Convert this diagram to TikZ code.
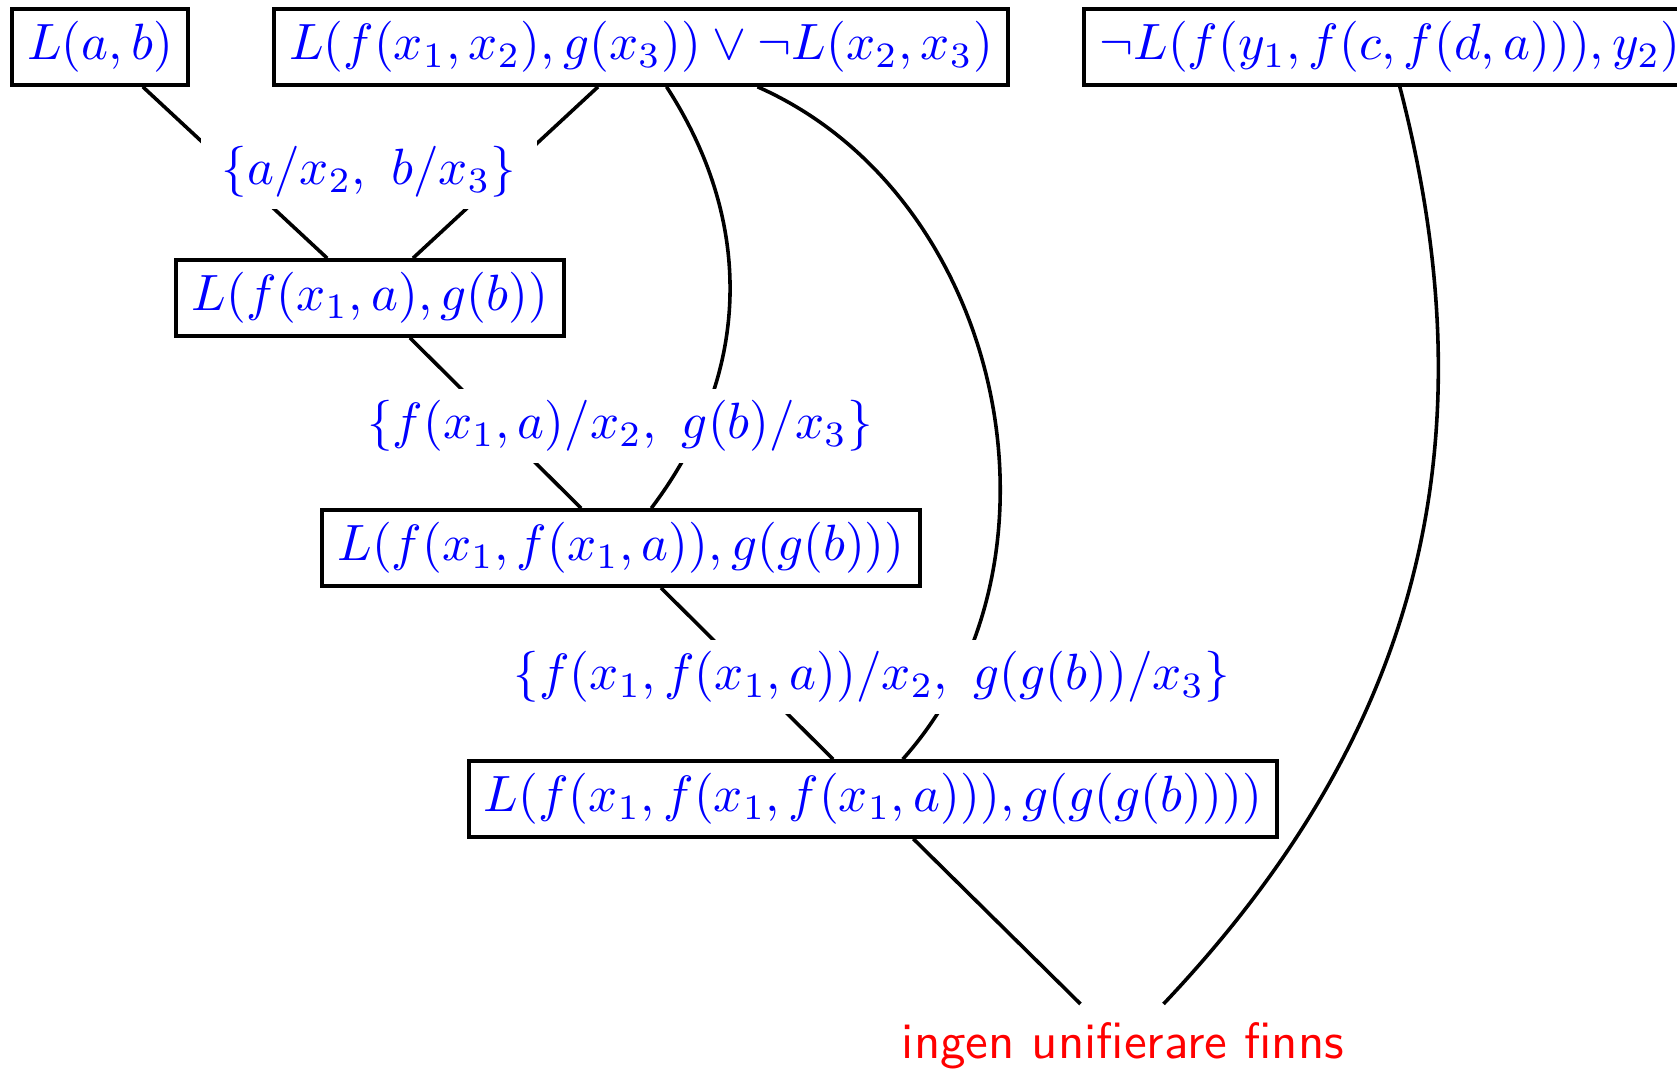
\documentclass[tikz,border=0pt]{standalone}
\begin{document}
\begin{tikzpicture}[x=0.196pt,y=-0.196pt,line width=0.7pt,
    clause/.style={draw,text=blue,line width=0.8pt,inner xsep=3pt,inner ysep=2.4pt},
    subst/.style={fill=white,text=blue,inner xsep=4pt,inner ysep=2.2pt}]
    \useasboundingbox (0,0) rectangle (1677,1073);
    % clauses
    \node[clause] (c1) at (100,47) {$L(a,b)$};
    \node[clause] (c2) at (641,47) {$L(f(x_1,x_2),g(x_3))\lor\neg L(x_2,x_3)$};
    \node[clause,anchor=west] (c3) at (1082,47) {$\neg L(f(y_1,f(c,f(d,a))),y_2)$};
    \node[clause] (r1) at (370,298) {$L(f(x_1,a),g(b))$};
    \node[clause] (r2) at (621,548) {$L(f(x_1,f(x_1,a)),g(g(b)))$};
    \node[clause] (r3) at (873,799) {$L(f(x_1,f(x_1,f(x_1,a))),g(g(g(b))))$};
    \node[text=red,font=\sffamily] (fail) at (1123,1046) {ingen unifierare finns};
    % resolution steps
    \draw (c1) -- (r1);
    \draw (c2) -- (r1);
    \draw (r1) -- (r2);
    \draw (c2) to[bend left=35] (r2);
    \draw (r2) -- (r3);
    \draw (c2) to[bend left=54] (r3);
    \draw (r3) -- (fail);
    \draw (c3) to[bend left=29] (fail);
    % unifiers
    \node[subst] (s1) at (369,172) {$\{a/x_2,\ b/x_3\}$};
    \node[subst] (s2) at (620,426) {$\{f(x_1,a)/x_2,\ g(b)/x_3\}$};
    \node[subst] (s3) at (872,677) {$\{f(x_1,f(x_1,a))/x_2,\ g(g(b))/x_3\}$};
\end{tikzpicture}
\end{document}
